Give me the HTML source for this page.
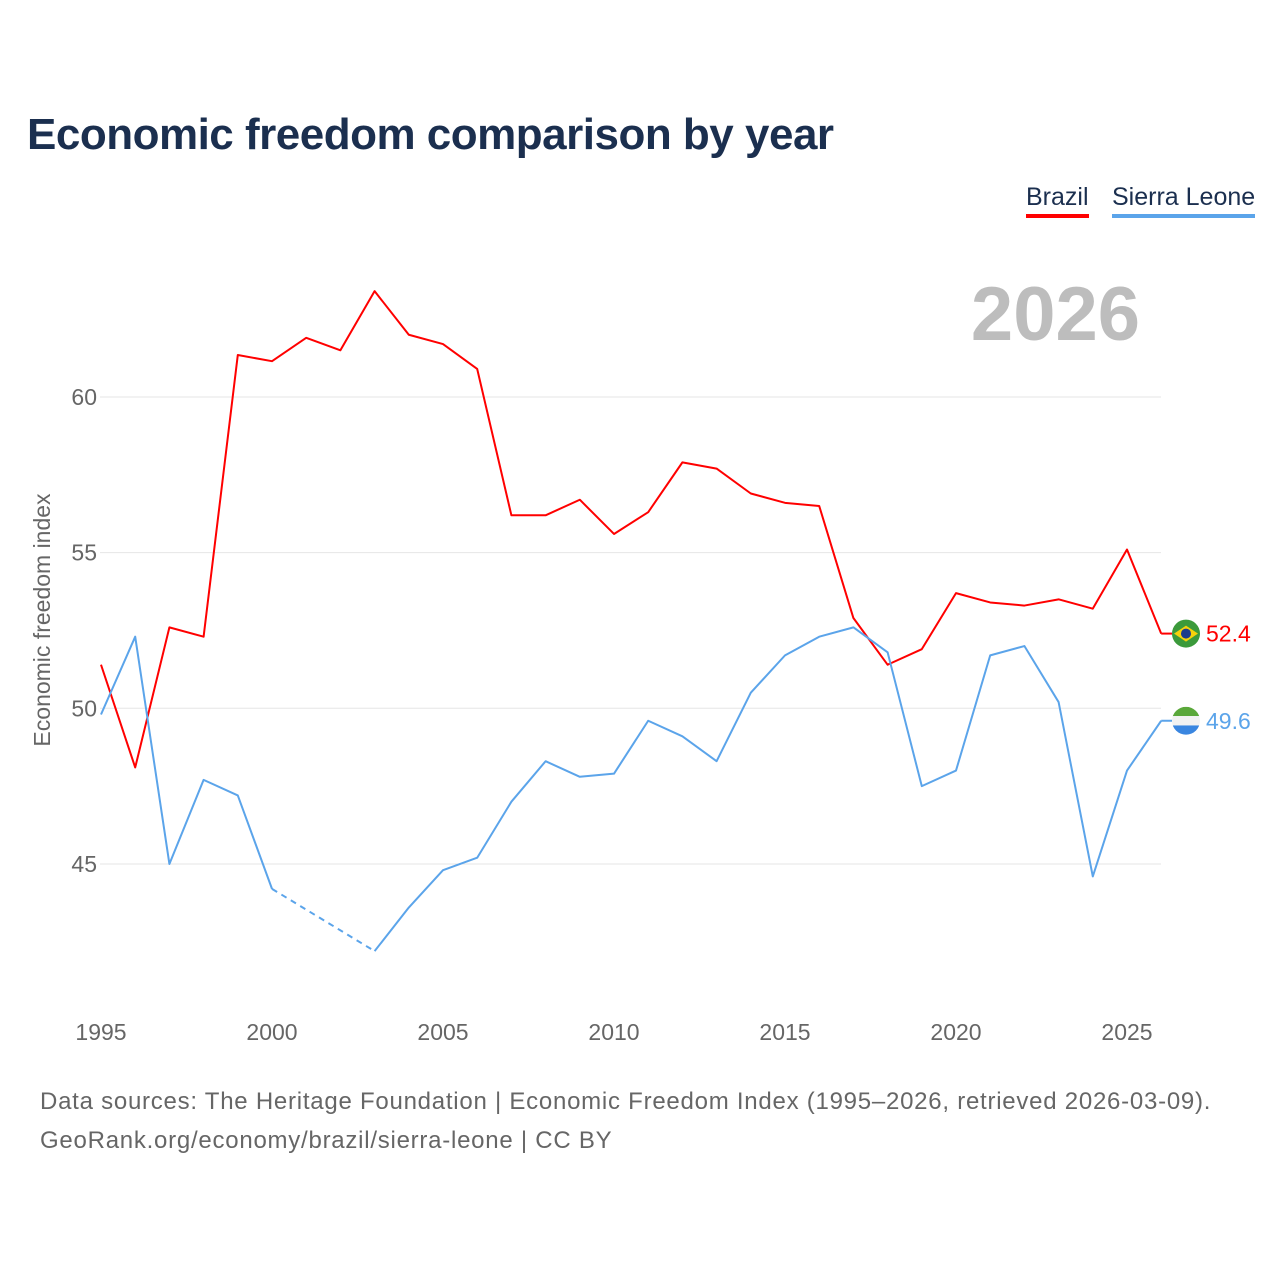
<!DOCTYPE html>
<html><head><meta charset="utf-8">
<style>
html,body{margin:0;padding:0;background:#fff;}
body{width:1280px;height:1280px;position:relative;font-family:"Liberation Sans",sans-serif;overflow:hidden;}
.title{position:absolute;left:27px;top:110px;font-size:44px;font-weight:bold;color:#1b2f4f;letter-spacing:-0.5px;}
.legend{position:absolute;top:183px;font-size:25px;color:#1b2f4f;padding-bottom:2px;}
.src{position:absolute;left:40px;font-size:24px;color:#666;letter-spacing:0.75px;}
</style></head><body>
<div class="title">Economic freedom comparison by year</div>
<div class="legend" style="left:1026px;border-bottom:4px solid #ff0000">Brazil</div>
<div class="legend" style="left:1112px;border-bottom:4px solid #5ba4ea">Sierra Leone</div>
<svg id="chart" width="1280" height="1280" style="position:absolute;left:0;top:0"></svg>
<div class="src" style="top:1088px">Data sources: The Heritage Foundation | Economic Freedom Index (1995–2026, retrieved 2026-03-09).</div>
<div class="src" style="top:1127px">GeoRank.org/economy/brazil/sierra-leone | CC BY</div>
<script>
const years=[1995,1996,1997,1998,1999,2000,2001,2002,2003,2004,2005,2006,2007,2008,2009,2010,2011,2012,2013,2014,2015,2016,2017,2018,2019,2020,2021,2022,2023,2024,2025,2026];
const brazil=[51.4,48.1,52.6,52.3,61.35,61.15,61.9,61.5,63.4,62.0,61.7,60.9,56.2,56.2,56.7,55.6,56.3,57.9,57.7,56.9,56.6,56.5,52.9,51.4,51.9,53.7,53.4,53.3,53.5,53.2,55.1,52.4];
const sierra=[49.8,52.3,45.0,47.7,47.2,44.2,null,null,42.2,43.6,44.8,45.2,47.0,48.3,47.8,47.9,49.6,49.1,48.3,50.5,51.7,52.3,52.6,51.8,47.5,48.0,51.7,52.0,50.2,44.6,48.0,49.6];
const yTicks=[45,50,55,60];
const xTicks=[1995,2000,2005,2010,2015,2020,2025];
const NS="http://www.w3.org/2000/svg";
const svg=document.getElementById('chart');
const X=y=>101+(y-1995)*34.2;
const Y=v=>397+(60-v)*31.13;
function mk(t,a){const e=document.createElementNS(NS,t);for(const k in a)e.setAttribute(k,a[k]);svg.appendChild(e);return e;}
yTicks.forEach(v=>{
 const g=mk('line',{x1:100,x2:1161,y1:Y(v),y2:Y(v),stroke:'#e6e6e6','stroke-width':1});
 
 
 const t=mk('text',{x:97,y:Y(v)+8,'text-anchor':'end','font-size':23,fill:'#666','font-family':'Liberation Sans, sans-serif'});
 t.textContent=v;
 
 
});
xTicks.forEach(yr=>{
 const t=mk('text',{x:X(yr),y:1040,'text-anchor':'middle','font-size':23,fill:'#666','font-family':'Liberation Sans, sans-serif'});
 t.textContent=yr;
 
 
});
const yl=mk('text',{x:0,y:0,transform:'translate(50,620) rotate(-90)','text-anchor':'middle','font-size':23,fill:'#666','font-family':'Liberation Sans, sans-serif'});
yl.textContent='Economic freedom index';


const yr=mk('text',{x:1140,y:340,'text-anchor':'end','font-size':76,'font-weight':'bold',fill:'#bdbdbd','font-family':'Liberation Sans, sans-serif'});
yr.textContent='2026';


function series(vals,color,name){
 let segs=[],cur=[],gaps=[],last=null;
 vals.forEach((v,i)=>{
  if(v==null){if(cur.length)segs.push(cur);cur=[];return;}
  const p=[X(years[i]),Y(v)];
  if(last&&last.i!==i-1)gaps.push([last.p,p]);
  cur.push(p);last={i,p};
 });
 if(cur.length)segs.push(cur);
 segs.forEach(s=>{
  const l=mk('polyline',{points:s.map(p=>p.join(',')).join(' '),fill:'none',stroke:color,'stroke-width':2,'stroke-linejoin':'round'});
  
  
 });
 gaps.forEach(g=>{
  const l=mk('line',{x1:g[0][0],y1:g[0][1],x2:g[1][0],y2:g[1][1],stroke:color,'stroke-width':2,'stroke-dasharray':'6,5'});
  
  
 });
 const lv=vals[vals.length-1];
 const ly=Y(lv);
 mk('line',{x1:X(2026),x2:1172,y1:ly,y2:ly,stroke:color,'stroke-width':2});
 const lab=mk('text',{x:1206,y:ly+8,'font-size':23,fill:color,'font-family':'Liberation Sans, sans-serif'});
 lab.textContent=lv.toFixed(1);
 
 
 return ly;
}
const by=series(brazil,'#ff0000','brazil');
const sy=series(sierra,'#5ba4ea','sierra-leone');
let f=mk('circle',{cx:1186,cy:by,r:14,fill:'#3b9a3b'});


mk('polygon',{points:`1174,${by} 1186,${by-8} 1198,${by} 1186,${by+8}`,fill:'#f5d20b'});
mk('circle',{cx:1186,cy:by,r:5,fill:'#1c3c8c'});
const cp=mk('clipPath',{id:'sl'});
const cc=document.createElementNS(NS,'circle');cc.setAttribute('cx',1186);cc.setAttribute('cy',sy);cc.setAttribute('r',14);cp.appendChild(cc);
[['#5aa83a',sy-14],['#f2f2f2',sy-4.7],['#3a86e0',sy+4.7]].forEach(([c,y0])=>{
 const r=mk('rect',{x:1172,y:y0,width:28,height:9.4,fill:c,'clip-path':'url(#sl)'});
 
 
});
</script>
</body></html>
